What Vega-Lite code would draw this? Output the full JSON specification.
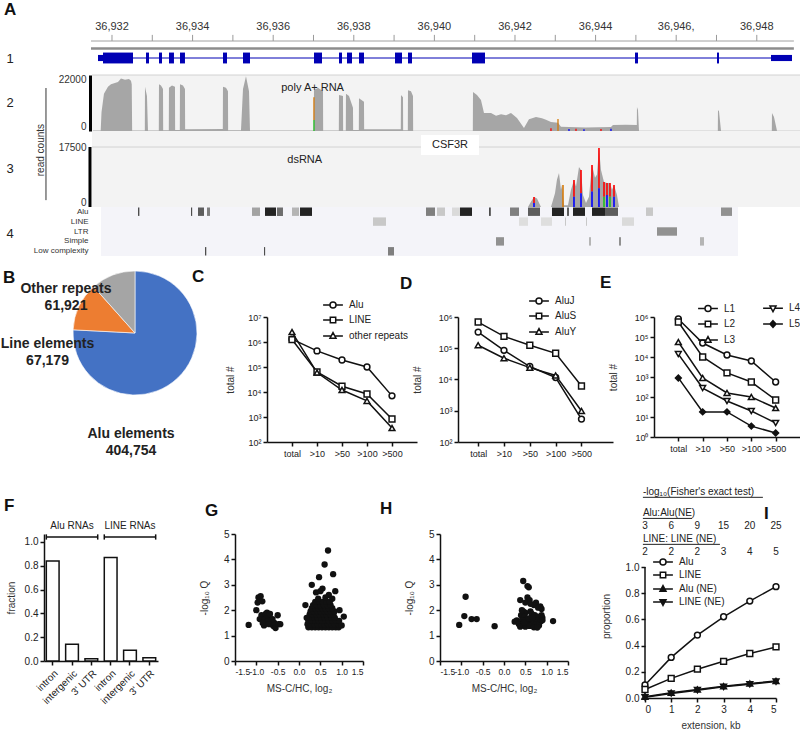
{
"$schema": "https://vega.github.io/schema/vega-lite/v6.json",
"padding": {"left": 0, "top": 1, "right": 0, "bottom": 0},
"spacing": 28,
"resolve": {"scale": {"color": "independent", "shape": "independent", "fill": "independent"}, "legend": {"color": "independent", "shape": "independent", "fill": "independent"}},
"config": {
  "view": {"stroke": null},
  "font": "Liberation Sans",
  "axis": {"labelFont": "Liberation Sans", "titleFont": "Liberation Sans", "domainColor": "#111", "domainWidth": 1.5, "tickColor": "#111", "tickWidth": 1.5, "tickSize": 4, "labelColor": "#222", "labelFontSize": 10, "titleFontSize": 10, "titleFontWeight": "normal", "titleColor": "#333", "grid": false, "labelPadding": 2, "labelOverlap": false},
  "title": {"fontSize": 17, "fontWeight": "bold", "anchor": "start", "frame": "group", "offset": 0, "color": "#111", "font": "Liberation Sans"},
  "legend": {"labelFont": "Liberation Sans", "labelFontSize": 10, "labelColor": "#222"}
},
"datasets": {
  "track2": [{"p":36931.529,"v":200},{"p":36931.72,"v":250},{"p":36931.74,"v":8000},{"p":36931.801,"v":16000},{"p":36931.9,"v":19000},{"p":36931.975,"v":20000},{"p":36932.149,"v":21000},{"p":36932.223,"v":22500},{"p":36932.323,"v":22000},{"p":36932.422,"v":22300},{"p":36932.471,"v":21500},{"p":36932.49,"v":20000},{"p":36932.5,"v":250},{"p":36932.815,"v":250},{"p":36932.819,"v":19000},{"p":36932.868,"v":15000},{"p":36932.893,"v":250},{"p":36933.162,"v":250},{"p":36933.166,"v":20000},{"p":36933.216,"v":19500},{"p":36933.266,"v":18000},{"p":36933.27,"v":300},{"p":36933.41,"v":300},{"p":36933.414,"v":18500},{"p":36933.489,"v":19500},{"p":36933.563,"v":19000},{"p":36933.567,"v":400},{"p":36933.683,"v":400},{"p":36933.687,"v":20000},{"p":36933.762,"v":19500},{"p":36933.811,"v":18000},{"p":36933.815,"v":800},{"p":36934.75,"v":900},{"p":36934.754,"v":19000},{"p":36934.829,"v":18500},{"p":36934.878,"v":17000},{"p":36934.882,"v":300},{"p":36935.201,"v":300},{"p":36935.251,"v":18000},{"p":36935.325,"v":23500},{"p":36935.4,"v":17000},{"p":36935.424,"v":200},{"p":36937.008,"v":200},{"p":36937.012,"v":17500},{"p":36937.112,"v":18500},{"p":36937.236,"v":17000},{"p":36937.24,"v":200},{"p":36937.629,"v":200},{"p":36937.633,"v":15400},{"p":36937.732,"v":15000},{"p":36937.736,"v":200},{"p":36937.802,"v":200},{"p":36937.806,"v":16000},{"p":36937.881,"v":15000},{"p":36937.98,"v":10000},{"p":36937.984,"v":400},{"p":36938.125,"v":400},{"p":36938.129,"v":14000},{"p":36938.253,"v":12500},{"p":36938.257,"v":700},{"p":36938.476,"v":800},{"p":36939.167,"v":700},{"p":36939.171,"v":15400},{"p":36939.221,"v":14500},{"p":36939.225,"v":300},{"p":36939.341,"v":300},{"p":36939.345,"v":17500},{"p":36939.419,"v":17000},{"p":36939.469,"v":15000},{"p":36939.473,"v":100},{"p":36940.954,"v":100},{"p":36940.958,"v":16700},{"p":36941.057,"v":15400},{"p":36941.156,"v":13300},{"p":36941.231,"v":7700},{"p":36941.405,"v":7700},{"p":36941.529,"v":6500},{"p":36941.653,"v":7200},{"p":36941.777,"v":6800},{"p":36941.901,"v":7700},{"p":36942.05,"v":5600},{"p":36942.223,"v":1300},{"p":36942.347,"v":5000},{"p":36942.521,"v":6000},{"p":36942.67,"v":5500},{"p":36942.769,"v":4800},{"p":36942.893,"v":3900},{"p":36943.067,"v":3500},{"p":36943.141,"v":1800},{"p":36943.762,"v":1500},{"p":36944.382,"v":1700},{"p":36944.432,"v":2600},{"p":36944.754,"v":2700},{"p":36945.023,"v":2600},{"p":36945.027,"v":10300},{"p":36945.052,"v":9000},{"p":36945.077,"v":100},{"p":36947.033,"v":100},{"p":36947.037,"v":9000},{"p":36947.062,"v":8500},{"p":36947.112,"v":100},{"p":36948.373,"v":100},{"p":36948.377,"v":7700},{"p":36948.427,"v":6000},{"p":36948.501,"v":100},{"p":36949.097,"v":100}],
  "snv2": [{"p":36937.012,"lo":4700,"hi":14500,"b":"G"},{"p":36937.012,"lo":0,"hi":4700,"b":"A"},{"p":36942.893,"lo":0,"hi":1200,"b":"T"},{"p":36943.067,"lo":0,"hi":5100,"b":"G"},{"p":36943.34,"lo":0,"hi":900,"b":"C"},{"p":36943.514,"lo":0,"hi":1000,"b":"T"},{"p":36943.712,"lo":0,"hi":800,"b":"C"},{"p":36944.134,"lo":0,"hi":900,"b":"T"},{"p":36944.382,"lo":0,"hi":1000,"b":"C"}],
  "track3": [{"p":36930.5,"v":0},{"p":36942.323,"v":0},{"p":36942.397,"v":1500},{"p":36942.472,"v":2900},{"p":36942.546,"v":2500},{"p":36942.645,"v":0},{"p":36942.893,"v":0},{"p":36942.993,"v":4000},{"p":36943.042,"v":8000},{"p":36943.092,"v":9900},{"p":36943.141,"v":5000},{"p":36943.166,"v":6400},{"p":36943.216,"v":500},{"p":36943.315,"v":500},{"p":36943.39,"v":5000},{"p":36943.464,"v":7900},{"p":36943.514,"v":6000},{"p":36943.588,"v":11700},{"p":36943.638,"v":10800},{"p":36943.687,"v":3500},{"p":36943.762,"v":1200},{"p":36943.836,"v":3000},{"p":36943.911,"v":12250},{"p":36943.985,"v":8500},{"p":36944.035,"v":9500},{"p":36944.084,"v":17200},{"p":36944.134,"v":10800},{"p":36944.209,"v":7300},{"p":36944.283,"v":7000},{"p":36944.357,"v":7000},{"p":36944.407,"v":5000},{"p":36944.457,"v":6400},{"p":36944.531,"v":3500},{"p":36944.581,"v":0},{"p":36949.0,"v":0}],
  "snv3": [{"p":36942.472,"lo":1200,"hi":2900,"b":"T"},{"p":36942.472,"lo":0,"hi":1200,"b":"C"},{"p":36943.191,"lo":0,"hi":6400,"b":"G"},{"p":36943.464,"lo":3000,"hi":7900,"b":"T"},{"p":36943.464,"lo":0,"hi":3000,"b":"C"},{"p":36943.638,"lo":4000,"hi":10800,"b":"T"},{"p":36943.638,"lo":0,"hi":4000,"b":"C"},{"p":36943.911,"lo":4500,"hi":12250,"b":"T"},{"p":36943.911,"lo":0,"hi":4500,"b":"C"},{"p":36944.084,"lo":5500,"hi":17200,"b":"T"},{"p":36944.084,"lo":0,"hi":5500,"b":"C"},{"p":36944.209,"lo":3000,"hi":7300,"b":"T"},{"p":36944.209,"lo":0,"hi":3000,"b":"A"},{"p":36944.283,"lo":3500,"hi":7000,"b":"T"},{"p":36944.283,"lo":0,"hi":3500,"b":"C"},{"p":36944.357,"lo":3000,"hi":7000,"b":"T"},{"p":36944.357,"lo":0,"hi":3000,"b":"A"},{"p":36944.457,"lo":3000,"hi":6400,"b":"T"},{"p":36944.457,"lo":0,"hi":3000,"b":"C"}],
  "exons": [{"s":36931.653,"e":36931.777,"k":"utr"},{"s":36931.777,"e":36932.521,"k":"cds"},{"s":36932.844,"e":36932.918,"k":"cds"},{"s":36933.166,"e":36933.241,"k":"cds"},{"s":36933.414,"e":36933.538,"k":"cds"},{"s":36933.687,"e":36933.811,"k":"cds"},{"s":36934.754,"e":36934.854,"k":"cds"},{"s":36935.251,"e":36935.424,"k":"cds"},{"s":36937.012,"e":36937.211,"k":"cds"},{"s":36937.633,"e":36937.707,"k":"cds"},{"s":36937.831,"e":36937.955,"k":"cds"},{"s":36938.129,"e":36938.253,"k":"cds"},{"s":36939.022,"e":36939.196,"k":"cds"},{"s":36939.345,"e":36939.444,"k":"cds"},{"s":36940.933,"e":36941.256,"k":"cds"},{"s":36944.978,"e":36945.052,"k":"cds"},{"s":36947.012,"e":36947.062,"k":"cds"},{"s":36948.352,"e":36948.874,"k":"utr"}],
  "ticks": [{"t":36932},{"t":36933},{"t":36934},{"t":36935},{"t":36936},{"t":36937},{"t":36938},{"t":36939},{"t":36940},{"t":36941},{"t":36942},{"t":36943},{"t":36944},{"t":36945},{"t":36946},{"t":36947},{"t":36948}],
  "ticklabels": [{"t":36932,"lab":"36,932"},{"t":36934,"lab":"36,934"},{"t":36936,"lab":"36,936"},{"t":36938,"lab":"36,938"},{"t":36940,"lab":"36,940"},{"t":36942,"lab":"36,942"},{"t":36944,"lab":"36,944"},{"t":36946,"lab":"36,946,"},{"t":36948,"lab":"36,948"}],
  "repeats": [{"c":"Alu","s":36932.645,"e":36932.68,"sc":724},{"c":"Alu","s":36933.96,"e":36933.99,"sc":724},{"c":"Alu","s":36934.134,"e":36934.283,"sc":645},{"c":"Alu","s":36934.357,"e":36934.432,"sc":486},{"c":"Alu","s":36935.474,"e":36935.673,"sc":327},{"c":"Alu","s":36935.797,"e":36936.07,"sc":950},{"c":"Alu","s":36936.094,"e":36936.243,"sc":565},{"c":"Alu","s":36936.467,"e":36936.64,"sc":248},{"c":"Alu","s":36936.665,"e":36936.963,"sc":950},{"c":"Alu","s":36939.792,"e":36940.015,"sc":486},{"c":"Alu","s":36940.065,"e":36940.263,"sc":168},{"c":"Alu","s":36940.437,"e":36940.635,"sc":89},{"c":"Alu","s":36940.635,"e":36940.933,"sc":950},{"c":"Alu","s":36941.355,"e":36941.4,"sc":724},{"c":"Alu","s":36941.876,"e":36942.099,"sc":486},{"c":"Alu","s":36942.323,"e":36942.62,"sc":645},{"c":"Alu","s":36942.918,"e":36943.216,"sc":950},{"c":"Alu","s":36943.29,"e":36943.34,"sc":645},{"c":"Alu","s":36943.439,"e":36943.737,"sc":950},{"c":"Alu","s":36943.911,"e":36944.233,"sc":950},{"c":"Alu","s":36944.233,"e":36944.556,"sc":645},{"c":"Alu","s":36945.251,"e":36945.424,"sc":168},{"c":"Alu","s":36947.112,"e":36947.385,"sc":407},{"c":"LINE","s":36938.476,"e":36938.799,"sc":168},{"c":"LINE","s":36942.099,"e":36942.323,"sc":75},{"c":"LINE","s":36942.645,"e":36942.918,"sc":75},{"c":"LINE","s":36943.241,"e":36943.266,"sc":168},{"c":"LINE","s":36943.762,"e":36943.787,"sc":168},{"c":"LINE","s":36944.655,"e":36944.953,"sc":89},{"c":"LTR","s":36945.524,"e":36946.02,"sc":407},{"c":"Simple","s":36941.529,"e":36941.727,"sc":407},{"c":"Simple","s":36943.836,"e":36943.886,"sc":248},{"c":"Simple","s":36944.581,"e":36944.631,"sc":407},{"c":"Simple","s":36946.591,"e":36946.69,"sc":248},{"c":"Low complexity","s":36934.308,"e":36934.34,"sc":724},{"c":"Low complexity","s":36935.772,"e":36935.8,"sc":724},{"c":"Low complexity","s":36938.849,"e":36938.998,"sc":486}],
  "pie": [{"name":"Alu elements","count":404754,"ord":1},{"name":"Line elements","count":67179,"ord":2},{"name":"Other repeats","count":61921,"ord":3}],
  "c": [{"s":"Alu","c":"total","n":1300000},{"s":"Alu","c":">10","n":440000},{"s":"Alu","c":">50","n":190000},{"s":"Alu","c":">100","n":100000},{"s":"Alu","c":">500","n":7000},{"s":"LINE","c":"total","n":1250000},{"s":"LINE","c":">10","n":63000},{"s":"LINE","c":">50","n":17000},{"s":"LINE","c":">100","n":8300},{"s":"LINE","c":">500","n":830},{"s":"other repeats","c":"total","n":2500000},{"s":"other repeats","c":">10","n":60000},{"s":"other repeats","c":">50","n":12000},{"s":"other repeats","c":">100","n":4400},{"s":"other repeats","c":">500","n":360}],
  "d": [{"s":"AluJ","c":"total","n":330000},{"s":"AluJ","c":">10","n":86000},{"s":"AluJ","c":">50","n":26000},{"s":"AluJ","c":">100","n":11600},{"s":"AluJ","c":">500","n":540},{"s":"AluS","c":"total","n":690000},{"s":"AluS","c":">10","n":240000},{"s":"AluS","c":">50","n":125000},{"s":"AluS","c":">100","n":69000},{"s":"AluS","c":">500","n":6200},{"s":"AluY","c":"total","n":125000},{"s":"AluY","c":">10","n":48000},{"s":"AluY","c":">50","n":24000},{"s":"AluY","c":">100","n":13500},{"s":"AluY","c":">500","n":980}],
  "e": [{"s":"L1","c":"total","n":800000},{"s":"L1","c":">10","n":50000},{"s":"L1","c":">50","n":12600},{"s":"L1","c":">100","n":6300},{"s":"L1","c":">500","n":560},{"s":"L2","c":"total","n":560000},{"s":"L2","c":">10","n":10000},{"s":"L2","c":">50","n":1600},{"s":"L2","c":">100","n":560},{"s":"L2","c":">500","n":71},{"s":"L3","c":"total","n":56000},{"s":"L3","c":">10","n":900},{"s":"L3","c":">50","n":160},{"s":"L3","c":">100","n":100},{"s":"L3","c":">500","n":28},{"s":"L4","c":"total","n":14000},{"s":"L4","c":">10","n":280},{"s":"L4","c":">50","n":63},{"s":"L4","c":">100","n":20},{"s":"L4","c":">500","n":5},{"s":"L5","c":"total","n":900},{"s":"L5","c":">10","n":18},{"s":"L5","c":">50","n":18},{"s":"L5","c":">100","n":3.5},{"s":"L5","c":">500","n":1.6}],
  "f": [{"k":"Alu|intron","v":0.84},{"k":"Alu|intergenic","v":0.14},{"k":"Alu|3' UTR","v":0.018},{"k":"LINE|intron","v":0.87},{"k":"LINE|intergenic","v":0.09},{"k":"LINE|3' UTR","v":0.028}],
  "fbr": [{"g":"Alu RNAs","first":"Alu|intron","mid":"Alu|intergenic","last":"Alu|3' UTR"},{"g":"LINE RNAs","first":"LINE|intron","mid":"LINE|intergenic","last":"LINE|3' UTR"}],
  "g": [{"x":-1.18,"q":1.42},{"x":-1.0,"q":2.0},{"x":-0.97,"q":2.3},{"x":-0.95,"q":2.5},{"x":-0.9,"q":2.55},{"x":-0.86,"q":2.35},{"x":-0.88,"q":1.8},{"x":-0.92,"q":1.65},{"x":-0.8,"q":1.65},{"x":-0.78,"q":1.85},{"x":-0.75,"q":1.9},{"x":-0.72,"q":1.75},{"x":-0.7,"q":1.6},{"x":-0.68,"q":1.85},{"x":-0.65,"q":1.5},{"x":-0.82,"q":1.4},{"x":-0.75,"q":1.55},{"x":-0.7,"q":1.45},{"x":-0.6,"q":1.38},{"x":-0.58,"q":1.5},{"x":-0.55,"q":1.3},{"x":-0.5,"q":1.8},{"x":-0.48,"q":1.45},{"x":-0.44,"q":1.45},{"x":-0.62,"q":1.65},{"x":-0.85,"q":1.5},
    {"x":0.22,"q":1.33},{"x":0.3,"q":1.33},{"x":0.38,"q":1.33},{"x":0.46,"q":1.33},{"x":0.54,"q":1.33},{"x":0.62,"q":1.33},{"x":0.7,"q":1.33},{"x":0.78,"q":1.33},{"x":0.86,"q":1.33},{"x":0.93,"q":1.33},
    {"x":0.2,"q":1.45},{"x":0.28,"q":1.45},{"x":0.36,"q":1.45},{"x":0.44,"q":1.45},{"x":0.52,"q":1.45},{"x":0.6,"q":1.45},{"x":0.68,"q":1.45},{"x":0.76,"q":1.45},{"x":0.84,"q":1.45},{"x":0.92,"q":1.45},
    {"x":0.22,"q":1.58},{"x":0.3,"q":1.58},{"x":0.38,"q":1.58},{"x":0.46,"q":1.58},{"x":0.54,"q":1.58},{"x":0.62,"q":1.58},{"x":0.7,"q":1.58},{"x":0.78,"q":1.58},{"x":0.86,"q":1.58},{"x":0.94,"q":1.58},
    {"x":0.2,"q":1.7},{"x":0.28,"q":1.7},{"x":0.36,"q":1.7},{"x":0.44,"q":1.7},{"x":0.52,"q":1.7},{"x":0.6,"q":1.7},{"x":0.68,"q":1.7},{"x":0.76,"q":1.7},{"x":0.84,"q":1.7},
    {"x":0.25,"q":1.83},{"x":0.33,"q":1.83},{"x":0.41,"q":1.83},{"x":0.49,"q":1.83},{"x":0.57,"q":1.83},{"x":0.65,"q":1.83},{"x":0.73,"q":1.83},{"x":0.81,"q":1.83},
    {"x":0.27,"q":1.95},{"x":0.35,"q":1.95},{"x":0.43,"q":1.95},{"x":0.51,"q":1.95},{"x":0.59,"q":1.95},{"x":0.67,"q":1.95},{"x":0.75,"q":1.95},{"x":0.83,"q":1.95},
    {"x":0.3,"q":2.08},{"x":0.38,"q":2.08},{"x":0.46,"q":2.08},{"x":0.54,"q":2.08},{"x":0.62,"q":2.08},{"x":0.7,"q":2.08},{"x":0.78,"q":2.08},
    {"x":0.33,"q":2.2},{"x":0.42,"q":2.2},{"x":0.5,"q":2.2},{"x":0.58,"q":2.2},{"x":0.66,"q":2.2},{"x":0.74,"q":2.2},
    {"x":0.38,"q":2.33},{"x":0.48,"q":2.33},{"x":0.56,"q":2.33},{"x":0.64,"q":2.33},{"x":0.72,"q":2.33},
    {"x":0.68,"q":4.35},{"x":0.6,"q":3.8},{"x":0.47,"q":3.3},{"x":0.8,"q":3.42},{"x":0.3,"q":3.0},{"x":0.55,"q":2.85},{"x":0.5,"q":2.75},{"x":0.85,"q":2.75},{"x":0.7,"q":2.6},{"x":0.4,"q":2.7},{"x":0.95,"q":2.0},{"x":1.05,"q":1.75},{"x":1.0,"q":1.4},{"x":0.15,"q":2.2},{"x":0.18,"q":1.7},{"x":0.62,"q":2.5},{"x":0.45,"q":2.45},{"x":0.78,"q":2.45}],
  "h": [{"x":-1.05,"q":1.42},{"x":-0.9,"q":2.53},{"x":-0.93,"q":1.77},{"x":-0.76,"q":1.65},{"x":-0.64,"q":1.65},{"x":-0.22,"q":1.37},{"x":0.45,"q":3.15},{"x":0.55,"q":2.95},{"x":0.58,"q":2.9},{"x":0.38,"q":2.4},{"x":0.55,"q":2.5},{"x":0.6,"q":2.4},{"x":0.5,"q":2.3},{"x":0.75,"q":2.3},{"x":0.7,"q":2.2},{"x":0.85,"q":2.15},{"x":0.8,"q":2.1},{"x":0.45,"q":1.95},{"x":0.5,"q":1.9},{"x":0.62,"q":1.95},{"x":0.65,"q":1.85},{"x":0.4,"q":1.8},{"x":0.48,"q":1.75},{"x":0.72,"q":1.8},{"x":0.78,"q":1.75},{"x":0.88,"q":1.8},{"x":0.9,"q":1.7},{"x":0.3,"q":1.6},{"x":0.25,"q":1.55},{"x":0.42,"q":1.6},{"x":0.52,"q":1.6},{"x":0.6,"q":1.55},{"x":0.68,"q":1.6},{"x":0.8,"q":1.6},{"x":0.85,"q":1.55},{"x":0.35,"q":1.45},{"x":0.45,"q":1.45},{"x":0.55,"q":1.45},{"x":0.65,"q":1.42},{"x":0.75,"q":1.45},{"x":0.82,"q":1.4},{"x":0.38,"q":1.35},{"x":0.5,"q":1.35},{"x":0.6,"q":1.38},{"x":0.7,"q":1.33},{"x":0.78,"q":1.32},{"x":1.15,"q":1.57},{"x":0.47,"q":1.52},{"x":0.57,"q":1.68},{"x":0.67,"q":1.7},{"x":0.9,"q":1.6},{"x":0.88,"q":2.05},{"x":0.42,"q":2.0},{"x":0.62,"q":2.25}],
  "i": [{"s":"Alu","x":0,"p":0.1},{"s":"Alu","x":1,"p":0.31},{"s":"Alu","x":2,"p":0.48},{"s":"Alu","x":3,"p":0.62},{"s":"Alu","x":4,"p":0.74},{"s":"Alu","x":5,"p":0.85},{"s":"LINE","x":0,"p":0.065},{"s":"LINE","x":1,"p":0.15},{"s":"LINE","x":2,"p":0.22},{"s":"LINE","x":3,"p":0.28},{"s":"LINE","x":4,"p":0.34},{"s":"LINE","x":5,"p":0.39},{"s":"Alu (NE)","x":0,"p":0.01},{"s":"Alu (NE)","x":1,"p":0.04},{"s":"Alu (NE)","x":2,"p":0.065},{"s":"Alu (NE)","x":3,"p":0.09},{"s":"Alu (NE)","x":4,"p":0.11},{"s":"Alu (NE)","x":5,"p":0.13},{"s":"LINE (NE)","x":0,"p":0.005},{"s":"LINE (NE)","x":1,"p":0.035},{"s":"LINE (NE)","x":2,"p":0.06},{"s":"LINE (NE)","x":3,"p":0.085},{"s":"LINE (NE)","x":4,"p":0.105},{"s":"LINE (NE)","x":5,"p":0.125}],
  "ihead": [{"x":0,"alu":3,"line":2},{"x":1,"alu":6,"line":2},{"x":2,"alu":9,"line":2},{"x":3,"alu":15,"line":3},{"x":4,"alu":20,"line":4},{"x":5,"alu":25,"line":5}]
},
"vconcat": [
 {"spacing": 12,
  "resolve": {"scale": {"color": "independent", "shape": "independent", "fill": "independent"}, "legend": {"color": "independent", "shape": "independent", "fill": "independent"}},
  "vconcat": [
  {"bounds": "flush", "spacing": 0,
   "resolve": {"scale": {"color": "independent", "fill": "independent"}, "legend": {"color": "independent", "fill": "independent"}},
   "vconcat": [
   {"width": 757, "height": 34,
    "layer": [
     {"data": {"values": [{"s": 36931.479, "e": 36948.92}]},
      "mark": {"type": "rule", "color": "#a0a0a0", "strokeWidth": 1},
      "encoding": {
        "x": {"field": "s", "type": "quantitative", "scale": {"domain": [36930.313, 36949.097], "nice": false, "zero": false}, "axis": null},
        "x2": {"field": "e"},
        "y": {"datum": 0, "type": "quantitative", "scale": {"domain": [0, 1], "reverse": true, "nice": false},
              "axis": {"title": "1", "offset": -46, "domain": false, "ticks": false, "labels": false, "titleAngle": 0, "titleX": -84, "titleY": 17, "titleFontSize": 13, "titleAlign": "left", "titleBaseline": "middle", "titleColor": "#222"}}
      }},
     {"data": {"name": "ticks"},
      "mark": {"type": "rule", "color": "#9a9a9a", "strokeWidth": 1},
      "encoding": {"x": {"field": "t", "type": "quantitative", "scale": {"domain": [36930.313, 36949.097], "nice": false, "zero": false}, "axis": null},
                   "y": {"datum": -0.18, "type": "quantitative", "scale": {"domain": [0, 1], "reverse": true, "nice": false}}, "y2": {"datum": 0}}},
     {"data": {"name": "ticklabels"},
      "mark": {"type": "text", "fontSize": 11, "color": "#333"},
      "encoding": {"x": {"field": "t", "type": "quantitative", "scale": {"domain": [36930.313, 36949.097], "nice": false, "zero": false}, "axis": null},
                   "y": {"datum": -0.4, "type": "quantitative", "scale": {"domain": [0, 1], "reverse": true, "nice": false}},
                   "text": {"field": "lab"}}},
     {"data": {"values": [{"t": "A"}]},
      "mark": {"type": "text", "fontSize": 17, "fontWeight": "bold", "color": "#111", "align": "left"},
      "encoding": {"x": {"datum": 36929.32, "type": "quantitative", "scale": {"domain": [36930.313, 36949.097], "nice": false, "zero": false}, "axis": null},
                   "y": {"datum": -0.91, "type": "quantitative", "scale": {"domain": [0, 1], "reverse": true, "nice": false}},
                   "text": {"field": "t"}}},
     {"data": {"values": [{"s": 36931.479, "e": 36948.92}]},
      "mark": {"type": "rule", "color": "#8c8c8c", "strokeWidth": 2.5},
      "encoding": {"x": {"field": "s", "type": "quantitative", "scale": {"domain": [36930.313, 36949.097], "nice": false, "zero": false}, "axis": null}, "x2": {"field": "e"},
                   "y": {"datum": 0.22, "type": "quantitative", "scale": {"domain": [0, 1], "reverse": true, "nice": false}}}},
     {"data": {"values": [{"s": 36931.653, "e": 36948.874}]},
      "mark": {"type": "rule", "color": "#0000b4", "strokeWidth": 1},
      "encoding": {"x": {"field": "s", "type": "quantitative", "scale": {"domain": [36930.313, 36949.097], "nice": false, "zero": false}, "axis": null}, "x2": {"field": "e"},
                   "y": {"datum": 0.5, "type": "quantitative", "scale": {"domain": [0, 1], "reverse": true, "nice": false}}}},
     {"data": {"name": "exons"}, "transform": [{"filter": "datum.k == 'cds'"}],
      "mark": {"type": "rect", "color": "#0000b4"},
      "encoding": {"x": {"field": "s", "type": "quantitative", "scale": {"domain": [36930.313, 36949.097], "nice": false, "zero": false}, "axis": null}, "x2": {"field": "e"},
                   "y": {"datum": 0.34, "type": "quantitative", "scale": {"domain": [0, 1], "reverse": true, "nice": false}}, "y2": {"datum": 0.66}}},
     {"data": {"name": "exons"}, "transform": [{"filter": "datum.k == 'utr'"}],
      "mark": {"type": "rect", "color": "#0000b4"},
      "encoding": {"x": {"field": "s", "type": "quantitative", "scale": {"domain": [36930.313, 36949.097], "nice": false, "zero": false}, "axis": null}, "x2": {"field": "e"},
                   "y": {"datum": 0.41, "type": "quantitative", "scale": {"domain": [0, 1], "reverse": true, "nice": false}}, "y2": {"datum": 0.59}}}
    ]},
   {"width": 757, "height": 56,
    "layer": [
     {"data": {"values": [{"s": 36931.504, "e": 36949.097}]},
      "mark": {"type": "rect", "color": "#f3f3f3"},
      "encoding": {"x": {"field": "s", "type": "quantitative", "scale": {"domain": [36930.313, 36949.097], "nice": false, "zero": false}, "axis": null}, "x2": {"field": "e"},
                   "y": {"datum": 0, "type": "quantitative", "scale": {"domain": [0, 24000], "nice": false},
                         "axis": {"values": [0, 22000], "tickCount": 20, "format": "d", "labelFlush": true, "offset": -46, "domainColor": "#000", "domainWidth": 3, "ticks": false, "labelFontSize": 10, "labelColor": "#333", "labelPadding": 4, "title": "2", "titleAngle": 0, "titleX": -84, "titleY": 27, "titleFontSize": 13, "titleAlign": "left", "titleBaseline": "middle", "titleColor": "#222"}},
                   "y2": {"datum": 24000}}},
     {"data": {"values": [{"s": 36931.504, "e": 36949.097}]},
      "mark": {"type": "rule", "color": "#d2d2d2", "strokeWidth": 1},
      "encoding": {"x": {"field": "s", "type": "quantitative", "scale": {"domain": [36930.313, 36949.097], "nice": false, "zero": false}, "axis": null}, "x2": {"field": "e"},
                   "y": {"datum": 24000, "type": "quantitative", "scale": {"domain": [0, 24000], "nice": false}}}},
     {"data": {"name": "track2"},
      "mark": {"type": "area", "color": "#a6a6a6"},
      "encoding": {"x": {"field": "p", "type": "quantitative", "scale": {"domain": [36930.313, 36949.097], "nice": false, "zero": false}, "axis": null},
                   "y": {"field": "v", "type": "quantitative", "scale": {"domain": [0, 24000], "nice": false}}}},
     {"data": {"name": "snv2"},
      "mark": {"type": "rule", "strokeWidth": 1.3},
      "encoding": {"x": {"field": "p", "type": "quantitative", "scale": {"domain": [36930.313, 36949.097], "nice": false, "zero": false}, "axis": null},
                   "y": {"field": "lo", "type": "quantitative", "scale": {"domain": [0, 24000], "nice": false}}, "y2": {"field": "hi"},
                   "color": {"field": "b", "type": "nominal", "scale": {"domain": ["A", "C", "G", "T"], "range": ["#1fbf1f", "#0000ff", "#d47a0a", "#ff0000"]}, "legend": null}}},
     {"data": {"values": [{"t": "poly A+ RNA"}]},
      "mark": {"type": "text", "fontSize": 11, "color": "#222", "align": "left"},
      "encoding": {"x": {"datum": 36936.2, "type": "quantitative", "scale": {"domain": [36930.313, 36949.097], "nice": false, "zero": false}, "axis": null},
                   "y": {"datum": 18400, "type": "quantitative", "scale": {"domain": [0, 24000], "nice": false}},
                   "text": {"field": "t"}}}
    ]},
   {"width": 757, "height": 76,
    "layer": [
     {"data": {"values": [{"s": 36931.504, "e": 36949.097}]},
      "mark": {"type": "rect", "color": "#f3f3f3"},
      "encoding": {"x": {"field": "s", "type": "quantitative", "scale": {"domain": [36930.313, 36949.097], "nice": false, "zero": false}, "axis": null}, "x2": {"field": "e"},
                   "y": {"datum": 0, "type": "quantitative", "scale": {"domain": [0, 22167], "nice": false},
                         "axis": {"values": [0, 17500], "tickCount": 20, "format": "d", "labelFlush": true, "offset": -46, "domain": false, "ticks": false, "labelFontSize": 10, "labelColor": "#333", "labelPadding": 4, "title": "3", "titleAngle": 0, "titleX": -84, "titleY": 37, "titleFontSize": 13, "titleAlign": "left", "titleBaseline": "middle", "titleColor": "#222"}},
                   "y2": {"datum": 22167}}},
     {"data": {"values": [{"s": 36931.504, "e": 36949.097}]},
      "mark": {"type": "rule", "color": "#d2d2d2", "strokeWidth": 1},
      "encoding": {"x": {"field": "s", "type": "quantitative", "scale": {"domain": [36930.313, 36949.097], "nice": false, "zero": false}, "axis": null}, "x2": {"field": "e"},
                   "y": {"datum": 17500, "type": "quantitative", "scale": {"domain": [0, 22167], "nice": false}}}},
     {"data": {"values": [{"a": 0, "b": 17500}]},
      "mark": {"type": "rule", "color": "#000", "strokeWidth": 3},
      "encoding": {"x": {"datum": 36931.454, "type": "quantitative", "scale": {"domain": [36930.313, 36949.097], "nice": false, "zero": false}, "axis": null},
                   "y": {"field": "a", "type": "quantitative", "scale": {"domain": [0, 22167], "nice": false}}, "y2": {"field": "b"}}},
     {"data": {"name": "track3"},
      "mark": {"type": "area", "color": "#a6a6a6"},
      "encoding": {"x": {"field": "p", "type": "quantitative", "scale": {"domain": [36930.313, 36949.097], "nice": false, "zero": false}, "axis": null},
                   "y": {"field": "v", "type": "quantitative", "scale": {"domain": [0, 22167], "nice": false}}}},
     {"data": {"name": "snv3"},
      "mark": {"type": "rule", "strokeWidth": 1.6},
      "encoding": {"x": {"field": "p", "type": "quantitative", "scale": {"domain": [36930.313, 36949.097], "nice": false, "zero": false}, "axis": null},
                   "y": {"field": "lo", "type": "quantitative", "scale": {"domain": [0, 22167], "nice": false}}, "y2": {"field": "hi"},
                   "color": {"field": "b", "type": "nominal", "scale": {"domain": ["A", "C", "G", "T"], "range": ["#1fbf1f", "#0000ff", "#d47a0a", "#ff0000"]}, "legend": null}}},
     {"data": {"values": [{"t": "dsRNA"}]},
      "mark": {"type": "text", "fontSize": 11, "color": "#222", "align": "left"},
      "encoding": {"x": {"datum": 36936.35, "type": "quantitative", "scale": {"domain": [36930.313, 36949.097], "nice": false, "zero": false}, "axis": null},
                   "y": {"datum": 13700, "type": "quantitative", "scale": {"domain": [0, 22167], "nice": false}},
                   "text": {"field": "t"}}},
     {"data": {"values": [{"s": 36939.667, "e": 36941.107}]},
      "mark": {"type": "rect", "color": "#ffffff"},
      "encoding": {"x": {"field": "s", "type": "quantitative", "scale": {"domain": [36930.313, 36949.097], "nice": false, "zero": false}, "axis": null}, "x2": {"field": "e"},
                   "y": {"datum": 15200, "type": "quantitative", "scale": {"domain": [0, 22167], "nice": false}}, "y2": {"datum": 21000}}},
     {"data": {"values": [{"t": "CSF3R"}]},
      "mark": {"type": "text", "fontSize": 11, "color": "#222"},
      "encoding": {"x": {"datum": 36940.387, "type": "quantitative", "scale": {"domain": [36930.313, 36949.097], "nice": false, "zero": false}, "axis": null},
                   "y": {"datum": 18100, "type": "quantitative", "scale": {"domain": [0, 22167], "nice": false}},
                   "text": {"field": "t"}}},
     {"data": {"values": [{"t": "read counts"}]},
      "mark": {"type": "text", "fontSize": 10, "color": "#333", "angle": 270},
      "encoding": {"x": {"datum": 36930.238, "type": "quantitative", "scale": {"domain": [36930.313, 36949.097], "nice": false, "zero": false}, "axis": null},
                   "y": {"datum": 16600, "type": "quantitative", "scale": {"domain": [0, 22167], "nice": false}},
                   "text": {"field": "t"}}},
     {"data": {"values": [{"s": 34700, "e": 2000}]},
      "mark": {"type": "rule", "color": "#333", "strokeWidth": 1},
      "encoding": {"x": {"datum": 36930.362, "type": "quantitative", "scale": {"domain": [36930.313, 36949.097], "nice": false, "zero": false}, "axis": null},
                   "y": {"field": "s", "type": "quantitative", "scale": {"domain": [0, 22167], "nice": false}}, "y2": {"field": "e"}}}
    ]},
   {"width": 757, "height": 49,
    "layer": [
     {"data": {"values": [{"s": 36931.727, "e": 36947.533}]},
      "mark": {"type": "rect", "color": "#f4f4f9"},
      "encoding": {"x": {"field": "s", "type": "quantitative", "scale": {"domain": [36930.313, 36949.097], "nice": false, "zero": false}, "axis": null}, "x2": {"field": "e"},
                   "y": {"value": 0}, "y2": {"value": "height"}}},
     {"data": {"name": "repeats"},
      "mark": {"type": "rect"},
      "encoding": {"x": {"field": "s", "type": "quantitative", "scale": {"domain": [36930.313, 36949.097], "nice": false, "zero": false}, "axis": null}, "x2": {"field": "e"},
                   "y": {"field": "c", "type": "nominal", "scale": {"domain": ["Alu", "LINE", "LTR", "Simple", "Low complexity"], "paddingInner": 0.15, "paddingOuter": 0.05},
                         "axis": {"title": "4", "offset": -46, "domain": false, "ticks": false, "labelFontSize": 8, "labelColor": "#333", "labelPadding": 2, "titleAngle": 0, "titleX": -84, "titleY": 26, "titleFontSize": 13, "titleAlign": "left", "titleBaseline": "middle", "titleColor": "#222"}},
                   "fill": {"field": "sc", "type": "quantitative", "scale": {"domain": [0, 1000], "range": ["#f0f0f0", "#1a1a1a"]}, "legend": null}}}
    ]}
  ]},
  {"bounds": "flush", "spacing": 41,
   "resolve": {"scale": {"color": "independent", "shape": "independent", "fill": "independent"}, "legend": {"color": "independent", "shape": "independent", "fill": "independent"}},
   "hconcat": [
   {"width": 182, "height": 32,
    "title": {"text": "B", "dx": -41, "dy": 21},
    "data": {"name": "pie"},
    "layer": [
     {"mark": {"type": "arc", "outerRadius": 62, "stroke": "#ffffff", "strokeWidth": 0.6},
      "encoding": {"theta": {"field": "count", "type": "quantitative", "stack": true},
                   "color": {"field": "name", "type": "nominal", "scale": {"domain": ["Alu elements", "Line elements", "Other repeats"], "range": ["#4472c4", "#ed7d31", "#a5a5a5"]}, "legend": null},
                   "order": {"field": "ord", "type": "quantitative"}}},
     {"transform": [{"filter": "datum.ord == 3"}], "mark": {"type": "text", "dx": -69, "dy": -44, "fontSize": 14, "fontWeight": "bold", "color": "#222"}, "encoding": {"text": {"field": "name"}}},
     {"transform": [{"filter": "datum.ord == 3"}], "mark": {"type": "text", "dx": -69, "dy": -27, "fontSize": 14, "fontWeight": "bold", "color": "#222"}, "encoding": {"text": {"field": "count", "type": "quantitative", "format": ","}}},
     {"transform": [{"filter": "datum.ord == 2"}], "mark": {"type": "text", "dx": -87.5, "dy": 11, "fontSize": 14, "fontWeight": "bold", "color": "#222"}, "encoding": {"text": {"field": "name"}}},
     {"transform": [{"filter": "datum.ord == 2"}], "mark": {"type": "text", "dx": -87.5, "dy": 28, "fontSize": 14, "fontWeight": "bold", "color": "#222"}, "encoding": {"text": {"field": "count", "type": "quantitative", "format": ","}}},
     {"transform": [{"filter": "datum.ord == 1"}], "mark": {"type": "text", "dx": -4, "dy": 101, "fontSize": 14, "fontWeight": "bold", "color": "#222"}, "encoding": {"text": {"field": "name"}}},
     {"transform": [{"filter": "datum.ord == 1"}], "mark": {"type": "text", "dx": -4, "dy": 118, "fontSize": 14, "fontWeight": "bold", "color": "#222"}, "encoding": {"text": {"field": "count", "type": "quantitative", "format": ","}}}
    ]},
   {"width": 150, "height": 125,
    "title": {"text": "C", "dx": -75, "dy": -10},
    "data": {"name": "c"},
    "resolve": {"scale": {"shape": "independent"}},
    "layer": [
     {"mark": {"type": "line", "color": "#111", "strokeWidth": 1.5},
      "encoding": {"x": {"field": "c", "type": "ordinal", "sort": ["total", ">10", ">50", ">100", ">500"], "scale": {"type": "point", "padding": 1}, "axis": {"title": null, "labelAngle": 0, "labelFontSize": 9, "labelPadding": 3}},
                   "y": {"field": "n", "type": "quantitative", "scale": {"type": "log", "domain": [100, 10000000]}, "axis": {"values": [100, 1000, 10000, 100000, 1000000, 10000000], "tickCount": 20, "labelExpr": "'10' + ['⁰','¹','²','³','⁴','⁵','⁶','⁷'][round(log(datum.value)/LN10)]", "title": "total #", "titlePadding": 12, "labelFontSize": 9}},
                   "detail": {"field": "s"}}},
     {"mark": {"type": "point", "filled": true, "fill": "#ffffff", "stroke": "#111", "strokeWidth": 1.5, "size": 34, "opacity": 1},
      "encoding": {"x": {"field": "c", "type": "ordinal", "sort": ["total", ">10", ">50", ">100", ">500"], "scale": {"type": "point", "padding": 1}},
                   "y": {"field": "n", "type": "quantitative", "scale": {"type": "log", "domain": [100, 10000000]}},
                   "shape": {"field": "s", "type": "nominal", "scale": {"domain": ["Alu", "LINE", "other repeats"], "range": ["circle", "square", "triangle-up"]}, "legend": null}}},
     {"transform": [{"filter": "false"}],
      "mark": {"type": "point", "filled": true, "fill": "#ffffff", "stroke": "#111", "strokeWidth": 1.5, "size": 36, "opacity": 1},
      "encoding": {"x": {"field": "c", "type": "ordinal", "sort": ["total", ">10", ">50", ">100", ">500"], "scale": {"type": "point", "padding": 1}},
                   "y": {"field": "n", "type": "quantitative", "scale": {"type": "log", "domain": [100, 10000000]}},
                   "shape": {"field": "s", "type": "nominal", "scale": {"domain": ["Alu", "LINE", "other repeats"], "range": ["M-3.3,0H-1M1,0H3.3M1,0A1,1,0,1,1,-1,0A1,1,0,1,1,1,0Z", "M-3.3,0H-0.9M0.9,0H3.3M-0.9,-0.9H0.9V0.9H-0.9Z", "M-3.3,0H-0.6M0.6,0H3.3M0,-1.1L1,0.75L-1,0.75Z"]},
                             "legend": {"title": null, "orient": "none", "legendX": 61, "legendY": -17, "symbolSize": 36, "labelOffset": 11, "rowPadding": 3, "labelFontSize": 10,
                                        "encode": {"symbols": {"update": {"stroke": {"value": "#111"}, "strokeWidth": {"value": 1.5}, "fill": {"value": "#ffffff"}, "opacity": {"value": 1}}}}}}}}
    ]},
   {"width": 155, "height": 125,
    "title": {"text": "D", "dx": -58, "dy": 1},
    "data": {"name": "d"},
    "resolve": {"scale": {"shape": "independent"}},
    "layer": [
     {"mark": {"type": "line", "color": "#111", "strokeWidth": 1.5},
      "encoding": {"x": {"field": "c", "type": "ordinal", "sort": ["total", ">10", ">50", ">100", ">500"], "scale": {"type": "point", "padding": 1.13, "align": 0.39}, "axis": {"title": null, "labelAngle": 0, "labelFontSize": 9, "labelPadding": 3}},
                   "y": {"field": "n", "type": "quantitative", "scale": {"type": "log", "domain": [100, 1000000]}, "axis": {"values": [100, 1000, 10000, 100000, 1000000], "tickCount": 20, "labelExpr": "'10' + ['⁰','¹','²','³','⁴','⁵','⁶','⁷'][round(log(datum.value)/LN10)]", "title": "total #", "titlePadding": 16, "labelFontSize": 9}},
                   "detail": {"field": "s"}}},
     {"mark": {"type": "point", "filled": true, "fill": "#ffffff", "stroke": "#111", "strokeWidth": 1.5, "size": 34, "opacity": 1},
      "encoding": {"x": {"field": "c", "type": "ordinal", "sort": ["total", ">10", ">50", ">100", ">500"], "scale": {"type": "point", "padding": 1.13, "align": 0.39}},
                   "y": {"field": "n", "type": "quantitative", "scale": {"type": "log", "domain": [100, 1000000]}},
                   "shape": {"field": "s", "type": "nominal", "scale": {"domain": ["AluJ", "AluS", "AluY"], "range": ["circle", "square", "triangle-up"]}, "legend": null}}},
     {"transform": [{"filter": "false"}],
      "mark": {"type": "point", "filled": true, "fill": "#ffffff", "stroke": "#111", "strokeWidth": 1.5, "size": 36, "opacity": 1},
      "encoding": {"x": {"field": "c", "type": "ordinal", "sort": ["total", ">10", ">50", ">100", ">500"], "scale": {"type": "point", "padding": 1.13, "align": 0.39}},
                   "y": {"field": "n", "type": "quantitative", "scale": {"type": "log", "domain": [100, 1000000]}},
                   "shape": {"field": "s", "type": "nominal", "scale": {"domain": ["AluJ", "AluS", "AluY"], "range": ["M-3.3,0H-1M1,0H3.3M1,0A1,1,0,1,1,-1,0A1,1,0,1,1,1,0Z", "M-3.3,0H-0.9M0.9,0H3.3M-0.9,-0.9H0.9V0.9H-0.9Z", "M-3.3,0H-0.6M0.6,0H3.3M0,-1.1L1,0.75L-1,0.75Z"]},
                             "legend": {"title": null, "orient": "none", "legendX": 76, "legendY": -21, "symbolSize": 36, "labelOffset": 11, "rowPadding": 3, "labelFontSize": 10,
                                        "encode": {"symbols": {"update": {"stroke": {"value": "#111"}, "strokeWidth": {"value": 1.5}, "fill": {"value": "#ffffff"}, "opacity": {"value": 1}}}}}}}}
    ]},
   {"width": 146, "height": 120,
    "title": {"text": "E", "dx": -54, "dy": -7},
    "data": {"name": "e"},
    "resolve": {"scale": {"shape": "independent", "fill": "independent"}},
    "layer": [
     {"mark": {"type": "line", "color": "#111", "strokeWidth": 1.5},
      "encoding": {"x": {"field": "c", "type": "ordinal", "sort": ["total", ">10", ">50", ">100", ">500"], "scale": {"type": "point", "padding": 1}, "axis": {"title": null, "labelAngle": 0, "labelFontSize": 9, "labelPadding": 3}},
                   "y": {"field": "n", "type": "quantitative", "scale": {"type": "log", "domain": [1, 1000000]}, "axis": {"values": [1, 10, 100, 1000, 10000, 100000, 1000000], "tickCount": 20, "labelExpr": "'10' + ['⁰','¹','²','³','⁴','⁵','⁶','⁷'][round(log(datum.value)/LN10)]", "title": "total #", "titlePadding": 16, "labelFontSize": 9}},
                   "detail": {"field": "s"}}},
     {"mark": {"type": "point", "filled": true, "stroke": "#111", "strokeWidth": 1.5, "size": 34, "opacity": 1},
      "encoding": {"x": {"field": "c", "type": "ordinal", "sort": ["total", ">10", ">50", ">100", ">500"], "scale": {"type": "point", "padding": 1}},
                   "y": {"field": "n", "type": "quantitative", "scale": {"type": "log", "domain": [1, 1000000]}},
                   "shape": {"field": "s", "type": "nominal", "scale": {"domain": ["L1", "L2", "L3", "L4", "L5"], "range": ["circle", "square", "triangle-up", "triangle-down", "diamond"]}, "legend": null},
                   "fill": {"field": "s", "type": "nominal", "scale": {"domain": ["L1", "L2", "L3", "L4", "L5"], "range": ["#ffffff", "#ffffff", "#ffffff", "#ffffff", "#111111"]}, "legend": null}}},
     {"transform": [{"filter": "false"}],
      "mark": {"type": "point", "filled": true, "stroke": "#111", "strokeWidth": 1.5, "size": 36, "opacity": 1},
      "encoding": {"x": {"field": "c", "type": "ordinal", "sort": ["total", ">10", ">50", ">100", ">500"], "scale": {"type": "point", "padding": 1}},
                   "y": {"field": "n", "type": "quantitative", "scale": {"type": "log", "domain": [1, 1000000]}},
                   "shape": {"field": "s", "type": "nominal", "scale": {"domain": ["L1", "L2", "L3", "L4", "L5"], "range": ["M-3.3,0H-1M1,0H3.3M1,0A1,1,0,1,1,-1,0A1,1,0,1,1,1,0Z", "M-3.3,0H-0.9M0.9,0H3.3M-0.9,-0.9H0.9V0.9H-0.9Z", "M-3.3,0H-0.6M0.6,0H3.3M0,-1.1L1,0.75L-1,0.75Z", "M-3.3,0H-0.6M0.6,0H3.3M0,1.1L1,-0.75L-1,-0.75Z", "M-3.3,0H-1M1,0H3.3M0,-1.1L1,0L0,1.1L-1,0Z"]},
                             "legend": {"title": null, "orient": "none", "legendX": 49, "legendY": -14, "columns": 2, "columnPadding": 24, "symbolSize": 36, "labelOffset": 11, "rowPadding": 2, "labelFontSize": 10,
                                        "encode": {"symbols": {"update": {"stroke": {"value": "#111"}, "strokeWidth": {"value": 1.5}, "opacity": {"value": 1}}}}}},
                   "fill": {"field": "s", "type": "nominal", "scale": {"domain": ["L1", "L2", "L3", "L4", "L5"], "range": ["#ffffff", "#ffffff", "#ffffff", "#ffffff", "#111111"]},
                            "legend": {"title": null, "orient": "none", "legendX": 49, "legendY": -14, "columns": 2, "columnPadding": 24, "symbolSize": 36, "labelOffset": 11, "rowPadding": 2, "labelFontSize": 10,
                                       "encode": {"symbols": {"update": {"stroke": {"value": "#111"}, "strokeWidth": {"value": 1.5}, "opacity": {"value": 1}}}}}}}}
    ]}
  ]}
 ]},
 {"bounds": "flush", "spacing": 77,
  "resolve": {"scale": {"color": "independent", "shape": "independent", "fill": "independent"}, "legend": {"color": "independent", "shape": "independent", "fill": "independent"}},
  "hconcat": [
  {"width": 114, "height": 127,
   "title": {"text": "F", "dx": -40, "dy": -2},
   "layer": [
    {"data": {"name": "f"},
     "mark": {"type": "bar", "fill": "#ffffff", "stroke": "#111", "strokeWidth": 1.5},
     "encoding": {"x": {"field": "k", "type": "nominal", "scale": {"domain": ["Alu|intron", "Alu|intergenic", "Alu|3' UTR", "LINE|intron", "LINE|intergenic", "LINE|3' UTR"], "paddingInner": 0.34, "paddingOuter": 0.12},
                        "axis": {"title": null, "labelAngle": -45, "labelExpr": "split(datum.label, '|')[1]", "labelFontSize": 10, "labelPadding": 3, "labelOverlap": false}},
                  "y": {"field": "v", "type": "quantitative", "scale": {"domain": [0, 1.067], "nice": false}, "axis": {"values": [0, 0.2, 0.4, 0.6, 0.8, 1], "tickCount": 20, "format": ".1f", "title": "fraction", "titlePadding": 8, "labelOverlap": false}}}},
    {"data": {"name": "fbr"},
     "mark": {"type": "rule", "color": "#111", "strokeWidth": 1.5},
     "encoding": {"x": {"field": "first", "type": "nominal", "bandPosition": 0, "scale": {"domain": ["Alu|intron", "Alu|intergenic", "Alu|3' UTR", "LINE|intron", "LINE|intergenic", "LINE|3' UTR"], "paddingInner": 0.34, "paddingOuter": 0.12}},
                  "x2": {"field": "last", "bandPosition": 1},
                  "y": {"datum": 1.042, "type": "quantitative", "scale": {"domain": [0, 1.067], "nice": false}}}},
    {"data": {"name": "fbr"},
     "mark": {"type": "rule", "color": "#111", "strokeWidth": 1.5},
     "encoding": {"x": {"field": "first", "type": "nominal", "bandPosition": 0, "scale": {"domain": ["Alu|intron", "Alu|intergenic", "Alu|3' UTR", "LINE|intron", "LINE|intergenic", "LINE|3' UTR"], "paddingInner": 0.34, "paddingOuter": 0.12}},
                  "y": {"datum": 1.02, "type": "quantitative", "scale": {"domain": [0, 1.067], "nice": false}}, "y2": {"datum": 1.064}}},
    {"data": {"name": "fbr"},
     "mark": {"type": "rule", "color": "#111", "strokeWidth": 1.5},
     "encoding": {"x": {"field": "last", "type": "nominal", "bandPosition": 1, "scale": {"domain": ["Alu|intron", "Alu|intergenic", "Alu|3' UTR", "LINE|intron", "LINE|intergenic", "LINE|3' UTR"], "paddingInner": 0.34, "paddingOuter": 0.12}},
                  "y": {"datum": 1.02, "type": "quantitative", "scale": {"domain": [0, 1.067], "nice": false}}, "y2": {"datum": 1.064}}},
    {"data": {"name": "fbr"},
     "mark": {"type": "text", "fontSize": 10, "color": "#222"},
     "encoding": {"x": {"field": "mid", "type": "nominal", "scale": {"domain": ["Alu|intron", "Alu|intergenic", "Alu|3' UTR", "LINE|intron", "LINE|intergenic", "LINE|3' UTR"], "paddingInner": 0.34, "paddingOuter": 0.12}},
                  "y": {"datum": 1.134, "type": "quantitative", "scale": {"domain": [0, 1.067], "nice": false}},
                  "text": {"field": "g"}}}
   ]},
  {"width": 128, "height": 127,
   "title": {"text": "G", "dx": -30, "dy": -5},
   "data": {"name": "g"},
   "mark": {"type": "circle", "size": 40, "color": "#111", "opacity": 1},
   "encoding": {"x": {"field": "x", "type": "quantitative", "scale": {"domain": [-1.5, 1.5], "nice": false}, "axis": {"values": [-1.5, -1, -0.5, 0, 0.5, 1, 1.5], "labelExpr": "replace(format(datum.value, '.1f'), '−', '-')", "labelFontSize": 8.5, "title": "MS-C/HC, log₂", "titlePadding": 8}},
                "y": {"field": "q", "type": "quantitative", "scale": {"domain": [0, 5], "nice": false}, "axis": {"values": [0, 1, 2, 3, 4, 5], "title": "-log₁₀ Q", "titlePadding": 14}}}},
  {"width": 128, "height": 127,
   "title": {"text": "H", "dx": -60, "dy": -7},
   "data": {"name": "h"},
   "mark": {"type": "circle", "size": 40, "color": "#111", "opacity": 1},
   "encoding": {"x": {"field": "x", "type": "quantitative", "scale": {"domain": [-1.5, 1.5], "nice": false}, "axis": {"values": [-1.5, -1, -0.5, 0, 0.5, 1, 1.5], "labelExpr": "replace(format(datum.value, '.1f'), '−', '-')", "labelFontSize": 8.5, "title": "MS-C/HC, log₂", "titlePadding": 8}},
                "y": {"field": "q", "type": "quantitative", "scale": {"domain": [0, 5], "nice": false}, "axis": {"values": [0, 1, 2, 3, 4, 5], "title": "-log₁₀ Q", "titlePadding": 14}}}},
  {"width": 131, "height": 164,
   "title": {"text": "I", "dx": 119, "dy": 40},
   "resolve": {"scale": {"shape": "independent", "fill": "independent"}},
   "layer": [
    {"data": {"name": "i"},
     "mark": {"type": "line", "color": "#111", "strokeWidth": 1.5},
     "encoding": {"x": {"field": "x", "type": "quantitative", "scale": {"domain": [0, 5], "nice": false}, "axis": {"values": [0, 1, 2, 3, 4, 5], "tickCount": 20, "format": "d", "title": "extension, kb", "titlePadding": 6, "labelOverlap": false}},
                  "y": {"field": "p", "type": "quantitative", "scale": {"domain": [0, 1.252], "nice": false}, "axis": {"values": [0, 0.2, 0.4, 0.6, 0.8, 1], "tickCount": 20, "format": ".1f", "domain": false, "title": "proportion", "titlePadding": 14, "labelOverlap": false}},
                  "detail": {"field": "s"}}},
    {"data": {"values": [{"a": 0, "b": 1}]},
     "mark": {"type": "rule", "color": "#111", "strokeWidth": 1.5},
     "encoding": {"x": {"datum": 0, "type": "quantitative", "scale": {"domain": [0, 5], "nice": false}},
                  "y": {"field": "a", "type": "quantitative", "scale": {"domain": [0, 1.252], "nice": false}}, "y2": {"field": "b"}}},
    {"data": {"name": "i"},
     "mark": {"type": "point", "filled": true, "stroke": "#111", "strokeWidth": 1.5, "size": 34, "opacity": 1},
     "encoding": {"x": {"field": "x", "type": "quantitative", "scale": {"domain": [0, 5], "nice": false}},
                  "y": {"field": "p", "type": "quantitative", "scale": {"domain": [0, 1.252], "nice": false}},
                  "shape": {"field": "s", "type": "nominal", "scale": {"domain": ["Alu", "LINE", "Alu (NE)", "LINE (NE)"], "range": ["circle", "square", "triangle-up", "triangle-down"]}, "legend": null},
                  "fill": {"field": "s", "type": "nominal", "scale": {"domain": ["Alu", "LINE", "Alu (NE)", "LINE (NE)"], "range": ["#ffffff", "#ffffff", "#111111", "#111111"]}, "legend": null}}},
    {"data": {"name": "i"}, "transform": [{"filter": "false"}],
     "mark": {"type": "point", "filled": true, "stroke": "#111", "strokeWidth": 1.5, "size": 36, "opacity": 1},
     "encoding": {"x": {"field": "x", "type": "quantitative", "scale": {"domain": [0, 5], "nice": false}},
                  "y": {"field": "p", "type": "quantitative", "scale": {"domain": [0, 1.252], "nice": false}},
                  "shape": {"field": "s", "type": "nominal", "scale": {"domain": ["Alu", "LINE", "Alu (NE)", "LINE (NE)"], "range": ["M-3.3,0H-1M1,0H3.3M1,0A1,1,0,1,1,-1,0A1,1,0,1,1,1,0Z", "M-3.3,0H-0.9M0.9,0H3.3M-0.9,-0.9H0.9V0.9H-0.9Z", "M-3.3,0H-0.6M0.6,0H3.3M0,-1.1L1,0.75L-1,0.75Z", "M-3.3,0H-0.6M0.6,0H3.3M0,1.1L1,-0.75L-1,-0.75Z"]},
                            "legend": {"title": null, "orient": "none", "legendX": 13, "legendY": 23, "symbolSize": 36, "labelOffset": 11, "rowPadding": 1, "labelFontSize": 10,
                                       "encode": {"symbols": {"update": {"stroke": {"value": "#111"}, "strokeWidth": {"value": 1.5}, "opacity": {"value": 1}}}}}},
                  "fill": {"field": "s", "type": "nominal", "scale": {"domain": ["Alu", "LINE", "Alu (NE)", "LINE (NE)"], "range": ["#ffffff", "#ffffff", "#111111", "#111111"]},
                           "legend": {"title": null, "orient": "none", "legendX": 13, "legendY": 23, "symbolSize": 36, "labelOffset": 11, "rowPadding": 1, "labelFontSize": 10,
                                      "encode": {"symbols": {"update": {"stroke": {"value": "#111"}, "strokeWidth": {"value": 1.5}, "opacity": {"value": 1}}}}}}}},
    {"data": {"values": [{"t": "-log₁₀(Fisher's exact test)"}]},
     "mark": {"type": "text", "align": "left", "fontSize": 10, "color": "#222"},
     "encoding": {"x": {"datum": -0.08, "type": "quantitative", "scale": {"domain": [0, 5], "nice": false}},
                  "y": {"datum": 1.573, "type": "quantitative", "scale": {"domain": [0, 1.252], "nice": false}}, "text": {"field": "t"}}},
    {"data": {"values": [{"a": -0.08, "b": 4.5}]},
     "mark": {"type": "rule", "color": "#222", "strokeWidth": 1},
     "encoding": {"x": {"field": "a", "type": "quantitative", "scale": {"domain": [0, 5], "nice": false}}, "x2": {"field": "b"},
                  "y": {"datum": 1.532, "type": "quantitative", "scale": {"domain": [0, 1.252], "nice": false}}}},
    {"data": {"values": [{"t": "Alu:Alu(NE)"}]},
     "mark": {"type": "text", "align": "left", "fontSize": 10, "color": "#222"},
     "encoding": {"x": {"datum": -0.08, "type": "quantitative", "scale": {"domain": [0, 5], "nice": false}},
                  "y": {"datum": 1.412, "type": "quantitative", "scale": {"domain": [0, 1.252], "nice": false}}, "text": {"field": "t"}}},
    {"data": {"values": [{"a": -0.08, "b": 1.8}]},
     "mark": {"type": "rule", "color": "#222", "strokeWidth": 1},
     "encoding": {"x": {"field": "a", "type": "quantitative", "scale": {"domain": [0, 5], "nice": false}}, "x2": {"field": "b"},
                  "y": {"datum": 1.371, "type": "quantitative", "scale": {"domain": [0, 1.252], "nice": false}}}},
    {"data": {"name": "ihead"},
     "mark": {"type": "text", "fontSize": 10, "color": "#222"},
     "encoding": {"x": {"field": "x", "type": "quantitative", "scale": {"domain": [0, 5], "nice": false}},
                  "y": {"datum": 1.313, "type": "quantitative", "scale": {"domain": [0, 1.252], "nice": false}}, "text": {"field": "alu"}}},
    {"data": {"values": [{"t": "LINE: LINE (NE)"}]},
     "mark": {"type": "text", "align": "left", "fontSize": 10, "color": "#222"},
     "encoding": {"x": {"datum": -0.08, "type": "quantitative", "scale": {"domain": [0, 5], "nice": false}},
                  "y": {"datum": 1.214, "type": "quantitative", "scale": {"domain": [0, 1.252], "nice": false}}, "text": {"field": "t"}}},
    {"data": {"values": [{"a": -0.08, "b": 2.86}]},
     "mark": {"type": "rule", "color": "#222", "strokeWidth": 1},
     "encoding": {"x": {"field": "a", "type": "quantitative", "scale": {"domain": [0, 5], "nice": false}}, "x2": {"field": "b"},
                  "y": {"datum": 1.173, "type": "quantitative", "scale": {"domain": [0, 1.252], "nice": false}}}},
    {"data": {"name": "ihead"},
     "mark": {"type": "text", "fontSize": 10, "color": "#222"},
     "encoding": {"x": {"field": "x", "type": "quantitative", "scale": {"domain": [0, 5], "nice": false}},
                  "y": {"datum": 1.115, "type": "quantitative", "scale": {"domain": [0, 1.252], "nice": false}}, "text": {"field": "line"}}}
   ]}
 ]}
]
}
